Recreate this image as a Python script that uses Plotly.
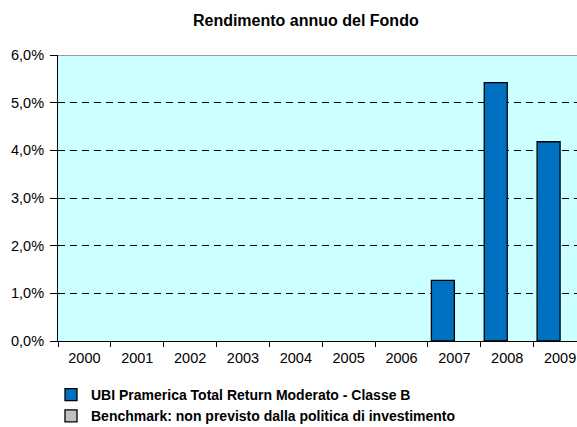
import plotly.graph_objects as go

years = ["2000", "2001", "2002", "2003", "2004", "2005", "2006", "2007", "2008", "2009"]
fund_values = [None, None, None, None, None, None, None, 1.27, 5.42, 4.18]
bench_values = [None] * 10
fund_name = "UBI Pramerica Total Return Moderato - Classe B"
bench_name = "Benchmark: non previsto dalla politica di investimento"
y_ticks = [0, 1, 2, 3, 4, 5, 6]
y_labels = ["0,0%", "1,0%", "2,0%", "3,0%", "4,0%", "5,0%", "6,0%"]

FONT = "Liberation Sans, Arial, sans-serif"

fig = go.Figure()
fig.add_trace(go.Bar(x=years, y=fund_values, name=fund_name,
                     marker=dict(color="#0070C0", line=dict(color="black", width=1.3))))
fig.add_trace(go.Bar(x=years, y=bench_values, name=bench_name,
                     marker=dict(color="#C0C0C0", line=dict(color="black", width=1.3))))

fig.update_layout(
    width=577, height=427,
    margin=dict(l=58, r=0, t=55, b=86, pad=0, autoexpand=False),
    paper_bgcolor="white", plot_bgcolor="#CCFFFF",
    font=dict(family=FONT, size=14, color="black"),
    title=dict(text="<b>Rendimento annuo del Fondo</b>", x=0.53, xanchor="center",
               y=1 - 20 / 427, yanchor="middle", font=dict(size=16)),
    barmode="group",
    bargap=0.13,
    bargroupgap=0,
    showlegend=True,
    legend=dict(x=-0.0135, xref="paper", y=-0.133, yanchor="top", xanchor="left",
                font=dict(size=14, family=FONT, weight="bold"),
                tracegroupgap=0, bgcolor="rgba(0,0,0,0)", borderwidth=0),
)
fig.update_xaxes(type="category", range=[-0.5, 9.32], tickson="boundaries",
                 ticks="outside", ticklen=5, tickcolor="black",
                 showline=True, linecolor="black", linewidth=1,
                 showgrid=False, tickfont=dict(size=14.5), ticklabelstandoff=4)
fig.update_yaxes(range=[0, 6], tickvals=y_ticks, ticktext=y_labels,
                 ticks="outside", ticklen=7, tickcolor="black",
                 showline=True, linecolor="black", linewidth=1,
                 showgrid=True, gridcolor="black", griddash="7px,5px", gridwidth=1,
                 zeroline=False, tickfont=dict(size=14.5), ticklabelstandoff=3)
# gray top border
fig.add_shape(type="line", xref="paper", yref="y", x0=0, x1=1, y0=6, y1=6,
              line=dict(color="#808080", width=1.5))

fig.write_html(
    "out.html",
    config={"displayModeBar": False},
    post_script="document.body.style.margin='0';"
                "document.documentElement.style.overflow='hidden';"
                "document.body.style.overflow='hidden';",
)
